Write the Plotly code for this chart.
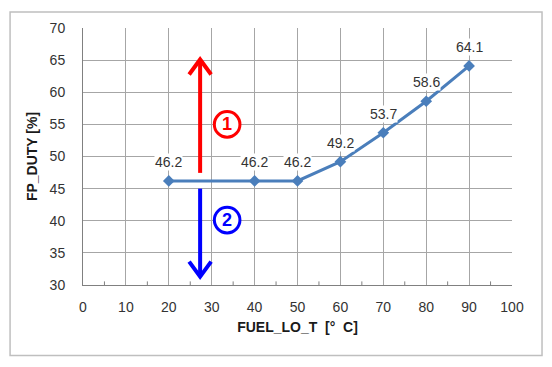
import plotly.graph_objects as go

temps = [20, 40, 50, 60, 70, 80, 90]
duty = [46.2, 46.2, 46.2, 49.2, 53.7, 58.6, 64.1]
duty_labels = ["46.2", "46.2", "46.2", "49.2", "53.7", "58.6", "64.1"]
x_title = "FUEL_LO_T  [°  C]"
y_title = "FP_DUTY [%]"
arrow_x = 27.3
red_arrow = [47.45, 65.1]
blue_arrow = [45.0, 31.3]
circle_x = 33.6
circle_1_y = 55.0
circle_2_y = 40.1

FONT = "Liberation Sans, Arial, sans-serif"
LINE_BLUE = "#4A7EBB"
RED = "#FF0000"
BLUE = "#0000FF"
TXT = "#333333"

fig = go.Figure()
fig.add_trace(go.Scatter(
    x=temps, y=duty, mode="lines+markers",
    line=dict(color=LINE_BLUE, width=3),
    marker=dict(symbol="diamond", size=9, color=LINE_BLUE),
    showlegend=False, hoverinfo="skip",
))

annotations = []
for xv, yv, lab in zip(temps, duty, duty_labels):
    annotations.append(dict(
        x=xv, y=yv, text=lab, showarrow=False, yshift=19,
        font=dict(family=FONT, size=14, color=TXT),
        bgcolor="white", borderpad=0,
    ))
annotations.append(dict(x=circle_x, y=circle_1_y, text="<b>1</b>", showarrow=False,
                        font=dict(family=FONT, size=18, color=RED)))
annotations.append(dict(x=circle_x, y=circle_2_y, text="<b>2</b>", showarrow=False,
                        font=dict(family=FONT, size=18, color=BLUE)))

shapes = []
# outer border
shapes.append(dict(type="rect", xref="paper", yref="paper",
                   x0=-0.170, x1=1.070, y0=-0.274, y1=1.062,
                   line=dict(color="#BFBFBF", width=1.5), layer="below"))
# minor ticks on x axis
for mx in range(5, 100, 10):
    shapes.append(dict(type="line", xref="x", yref="paper", x0=mx, x1=mx,
                       y0=0, y1=0.014, line=dict(color="#808080", width=1)))
# arrows
shapes.append(dict(type="line", x0=arrow_x, x1=arrow_x, y0=red_arrow[0], y1=red_arrow[1],
                   line=dict(color=RED, width=4)))
shapes.append(dict(type="path", xsizemode="pixel", ysizemode="pixel",
                   xanchor=arrow_x, yanchor=red_arrow[1],
                   path="M -11,-15 L 0,0 L 11,-15",
                   line=dict(color=RED, width=4)))
shapes.append(dict(type="line", x0=arrow_x, x1=arrow_x, y0=blue_arrow[0], y1=blue_arrow[1],
                   line=dict(color=BLUE, width=4)))
shapes.append(dict(type="path", xsizemode="pixel", ysizemode="pixel",
                   xanchor=arrow_x, yanchor=blue_arrow[1],
                   path="M -11,15 L 0,0 L 11,15",
                   line=dict(color=BLUE, width=4)))
# circles
for cy, col in [(circle_1_y, RED), (circle_2_y, BLUE)]:
    shapes.append(dict(type="circle", xsizemode="pixel", ysizemode="pixel",
                       xanchor=circle_x, yanchor=cy,
                       x0=-12.8, x1=12.8, y0=-12.8, y1=12.8,
                       line=dict(color=col, width=3), fillcolor="white"))

fig.update_layout(
    width=544, height=359,
    margin=dict(l=75, r=40, t=18, b=82),
    paper_bgcolor="white", plot_bgcolor="white",
    font=dict(family=FONT, size=14, color=TXT),
    annotations=annotations, shapes=shapes,
    xaxis=dict(range=[0, 100], dtick=10, tick0=0, showgrid=True,
               gridcolor="#A6A6A6", gridwidth=1, showline=True,
               linecolor="#808080", linewidth=1, zeroline=False,
               ticks="", ticklabelstandoff=9,
               tickfont=dict(family=FONT, size=14, color=TXT),
               title=dict(text="<b>" + x_title + "</b>", standoff=8,
                          font=dict(family=FONT, size=14, color="#1a1a1a"))),
    yaxis=dict(range=[30, 70], dtick=5, tick0=30, showgrid=True,
               gridcolor="#A6A6A6", gridwidth=1, showline=True,
               linecolor="#808080", linewidth=1, zeroline=False,
               ticks="", ticklabelstandoff=14,
               tickfont=dict(family=FONT, size=14, color=TXT),
               title=dict(text="<b>" + y_title + "</b>", standoff=8,
                          font=dict(family=FONT, size=14, color="#1a1a1a"))),
)

fig.write_html("out.html")
